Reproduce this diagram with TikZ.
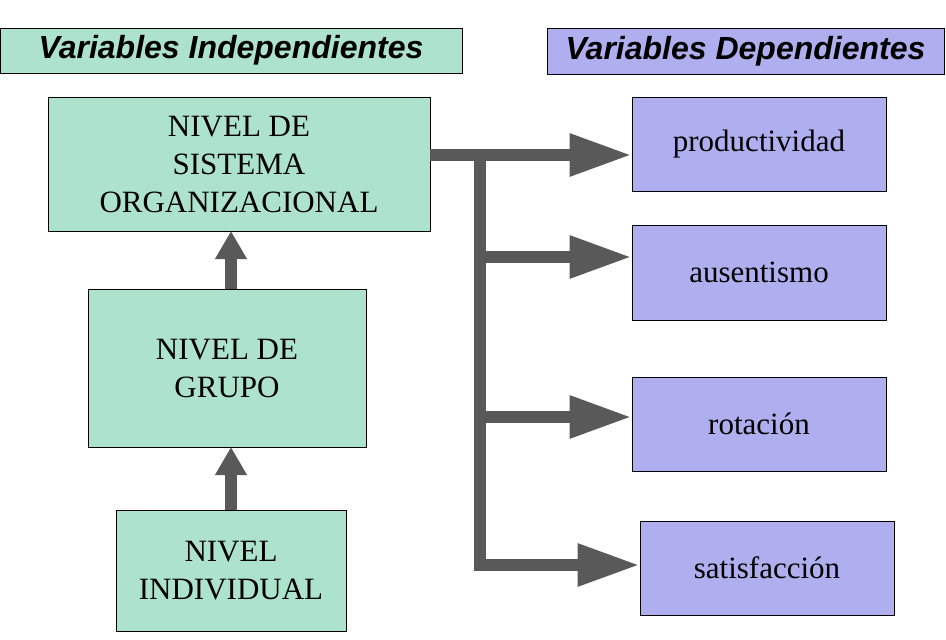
\documentclass[tikz,border=0pt]{standalone}
\usepackage{fontspec}
\setmainfont{Liberation Serif}
\setsansfont{Liberation Sans}
\usetikzlibrary{arrows.meta}
\definecolor{gr}{HTML}{ADE3CC}
\definecolor{pu}{HTML}{AFAEEE}
\definecolor{ar}{HTML}{595959}
\begin{document}
\begin{tikzpicture}[x=1pt,y=-1pt,
 box/.style={draw=black,line width=0.8pt,inner sep=0pt,align=center,font=\fontsize{31}{38}\selectfont},
 hdr/.style={draw=black,line width=0.8pt,inner sep=0pt,font=\sffamily\bfseries\itshape\fontsize{32}{36}\selectfont},
 thick arrow/.style={draw=ar,line width=12pt,-{Triangle[length=62pt,width=40pt]}},
 up arrow/.style={draw=ar,line width=12pt,-{Triangle[length=28pt,width=30pt]}}]
\useasboundingbox (0,0) rectangle (946,640);
\node[hdr,fill=gr,minimum width=462,minimum height=45] (h1) at (231,50.5) {Variables Independientes};
\node[hdr,fill=pu,minimum width=397,minimum height=46] (h2) at (745.5,51) {Variables Dependientes};
\node[box,fill=gr,minimum width=382,minimum height=134] (s) at (239,164) {NIVEL DE\\SISTEMA\\ORGANIZACIONAL};
\node[box,fill=gr,minimum width=278,minimum height=158] (g) at (227,368) {NIVEL DE\\GRUPO};
\node[box,fill=gr,minimum width=230,minimum height=121] (i) at (231,570.5) {NIVEL\\INDIVIDUAL};
\node[box,fill=pu,minimum width=254,minimum height=94] (p) at (759,144) {productividad};
\node[box,fill=pu,minimum width=254,minimum height=95] (a) at (759,272.5) {ausentismo};
\node[box,fill=pu,minimum width=254,minimum height=94] (r) at (759,424) {rotación};
\node[box,fill=pu,minimum width=254,minimum height=94] (t) at (767,568) {satisfacción};
\coordinate (j) at (480,155);
\coordinate (b) at (480,565);
\draw[up arrow] (231,289) -- (231,231);
\draw[up arrow] (231,510) -- (231,447);
\draw[draw=ar,line width=12pt] (430,155) -- (486,155);
\draw[draw=ar,line width=12pt] (j) -- (480,571);
\draw[thick arrow] (j) -- (p.west|-j);
\draw[thick arrow] (474,257) -- (a.west|-0,257);
\draw[thick arrow] (474,417) -- (r.west|-0,417);
\draw[thick arrow] (b) -- (t.west|-b);
\end{tikzpicture}
\end{document}
